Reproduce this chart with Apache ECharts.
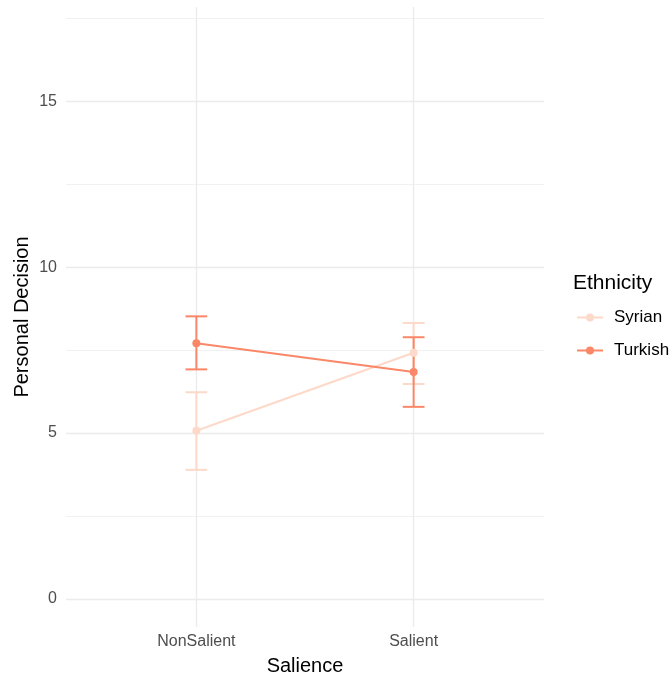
<!DOCTYPE html>
<html>
<head>
<meta charset="utf-8">
<script src="https://cdn.jsdelivr.net/npm/echarts@6/dist/echarts.min.js"></script>
<style>
  html, body { margin: 0; padding: 0; background: #fff; }
  #chart { width: 671px; height: 680px; }
</style>
</head>
<body>
<div id="chart"></div>
<script>
// categories on the x axis (placed at 1 and 2, like ggplot's discrete scale)
const categories = ["NonSalient", "Salient"];
const catPos = [1, 2];

// means and error bar ends
const syrianMean = [5.07, 7.42];
const syrianLow = [3.89, 6.48];
const syrianHigh = [6.23, 8.32];

const turkishMean = [7.71, 6.84];
const turkishLow = [6.92, 5.79];
const turkishHigh = [8.52, 7.89];

const yTicks = [0, 5, 10, 15];
const yMinor = [2.5, 7.5, 12.5, 17.5];

const SYR = "#FDD9C9";
const TUR = "#FA8868";
const GRID = "#EBEBEB";
const font = "Liberation Sans, Arial, sans-serif";

function pts(mean) {
	return catPos.map((x, i) => [x, mean[i]]);
}

function errData(low, high) {
	return catPos.map((x, i) => [x, low[i], high[i]]);
}

function errorBar(color) {
	return function (params, api) {
		const x = api.value(0);
		const lo = api.coord([x, api.value(1)]);
		const hi = api.coord([x, api.value(2)]);
		const l = api.coord([x - 0.05, api.value(1)])[0];
		const r = api.coord([x + 0.05, api.value(1)])[0];
		const style = { stroke: color, lineWidth: 2 };
		return {
			type: "group",
			children: [
				{ type: "line", shape: { x1: lo[0], y1: lo[1], x2: hi[0], y2: hi[1] }, style },
				{ type: "line", shape: { x1: l, y1: lo[1], x2: r, y2: lo[1] }, style },
				{ type: "line", shape: { x1: l, y1: hi[1], x2: r, y2: hi[1] }, style },
			],
		};
	};
}

const gridLines = yTicks
	.map((v) => ({ yAxis: v, lineStyle: { width: 1.3 } }))
	.concat(yMinor.map((v) => ({ yAxis: v, lineStyle: { width: 0.7 } })))
	.concat(catPos.map((v) => ({ xAxis: v, lineStyle: { width: 1.3 } })));

const option = {
	animation: false,
	backgroundColor: "#fff",
	grid: { left: 66, right: 127, top: 7, bottom: 53, outerBoundsMode: "none" },
	xAxis: {
		type: "value",
		min: 0.4,
		max: 2.6,
		interval: 0.2,
		name: "Salience",
		nameLocation: "middle",
		nameGap: 29,
		nameMoveOverlap: false,
		nameTextStyle: { fontFamily: font, fontSize: 20, color: "#000" },
		axisLine: { show: false },
		axisTick: { show: false },
		splitLine: { show: false },
		axisLabel: {
			margin: 7,
			fontFamily: font,
			fontSize: 16,
			color: "#4D4D4D",
			formatter: (v) => {
				const i = catPos.findIndex((c) => Math.abs(c - v) < 1e-6);
				return i >= 0 ? categories[i] : "";
			},
		},
	},
	yAxis: {
		type: "value",
		min: -0.85,
		max: 17.85,
		name: "Personal Decision",
		nameLocation: "middle",
		nameGap: 34,
		nameMoveOverlap: false,
		nameRotate: 90,
		nameTextStyle: { fontFamily: font, fontSize: 20, color: "#000" },
		axisLine: { show: false },
		axisTick: { show: false },
		splitLine: { show: false },
		axisLabel: {
			customValues: yTicks,
			margin: 9,
			fontFamily: font,
			fontSize: 16,
			color: "#4D4D4D",
		},
	},
	title: {
		text: "Ethnicity",
		left: 573,
		top: 273,
		padding: 0,
		textStyle: { fontFamily: font, fontSize: 21, fontWeight: "normal", color: "#000" },
	},
	legend: {
		orient: "vertical",
		left: 576,
		top: 309,
		padding: 0,
		itemWidth: 26,
		itemHeight: 10,
		itemGap: 16,
		data: ["Syrian", "Turkish"],
		textStyle: { fontFamily: font, fontSize: 17, color: "#000", padding: [0, 0, 0, 6] },
	},
	series: [
		{
			type: "line",
			silent: true,
			data: [],
			z: 1,
			markLine: {
				silent: true,
				z: 1,
				symbol: "none",
				label: { show: false },
				lineStyle: { color: GRID, type: "solid" },
				data: gridLines,
			},
		},
		{
			type: "custom",
			name: "SyrianErr",
			renderItem: errorBar(SYR),
			data: errData(syrianLow, syrianHigh),
			z: 3,
		},
		{
			type: "custom",
			name: "TurkishErr",
			renderItem: errorBar(TUR),
			data: errData(turkishLow, turkishHigh),
			z: 3,
		},
		{
			name: "Syrian",
			type: "line",
			data: pts(syrianMean),
			symbol: "circle",
			symbolSize: 8,
			itemStyle: { color: SYR },
			lineStyle: { color: SYR, width: 2 },
			z: 4,
		},
		{
			name: "Turkish",
			type: "line",
			data: pts(turkishMean),
			symbol: "circle",
			symbolSize: 8,
			itemStyle: { color: TUR },
			lineStyle: { color: TUR, width: 2 },
			z: 5,
		},
	],
};

const chart = echarts.init(document.getElementById("chart"), null, { renderer: "canvas" });
chart.setOption(option);
</script>
</body>
</html>
